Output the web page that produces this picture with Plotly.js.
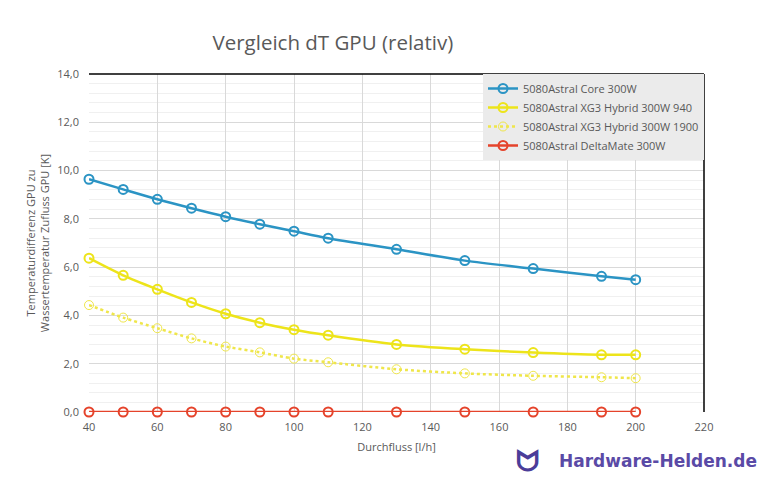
<!DOCTYPE html>
<html>
<head>
<meta charset="utf-8">
<script src="https://cdn.plot.ly/plotly-3.0.1.min.js"></script>
<style>html,body{margin:0;padding:0;background:#fff;}#chart{width:767px;height:487px;}</style>
</head>
<body>
<div id="chart"></div>
<script>
const flow = [40, 50, 60, 70, 80, 90, 100, 110, 130, 150, 170, 190, 200];
const seriesNames = [
  "5080Astral Core 300W",
  "5080Astral XG3 Hybrid 300W 940",
  "5080Astral XG3 Hybrid 300W 1900",
  "5080Astral DeltaMate 300W"
];
const coreValues   = [9.64, 9.22, 8.81, 8.44, 8.09, 7.78, 7.49, 7.20, 6.74, 6.27, 5.94, 5.62, 5.48];
const xg940Values  = [6.37, 5.66, 5.08, 4.54, 4.07, 3.70, 3.41, 3.18, 2.80, 2.60, 2.46, 2.37, 2.37];
const xg1900Values = [4.43, 3.91, 3.47, 3.05, 2.71, 2.47, 2.21, 2.06, 1.77, 1.60, 1.50, 1.44, 1.40];
const deltaValues  = [0, 0, 0, 0, 0, 0, 0, 0, 0, 0, 0, 0, 0];
const xTicks = [40, 60, 80, 100, 120, 140, 160, 180, 200, 220];
const yTicks = [0, 2, 4, 6, 8, 10, 12, 14];

const FONT = "Open Sans, Noto Sans, sans-serif";
const GRAY = "#595959";

function mk(name, y, color, dash, mlw) {
  return {
    type: "scatter", mode: "lines+markers", name: name, x: flow, y: y,
    cliponaxis: false,
    line: {color: color, width: 2.5, dash: dash, shape: "spline", smoothing: 0.8},
    marker: {symbol: "circle-open", size: 9, color: color, line: {color: color, width: mlw}}
  };
}
const data = [
  mk(seriesNames[0], coreValues, "#2b94c4", "solid", 2),
  mk(seriesNames[1], xg940Values, "#ede41a", "solid", 2),
  mk(seriesNames[2], xg1900Values, "#efe64a", "dot", 1),
  mk(seriesNames[3], deltaValues, "#e5432b", "solid", 2)
];

const layout = {
  width: 767, height: 487,
  margin: {l: 89, r: 63, t: 74, b: 75},
  paper_bgcolor: "#ffffff", plot_bgcolor: "#ffffff",
  font: {family: FONT, color: GRAY, size: 11},
  separators: ",.",
  showlegend: true,
  title: {text: "Vergleich dT GPU (relativ)", x: 0.434, xref: "container", xanchor: "center",
          y: 0.912, yref: "container", yanchor: "middle",
          font: {family: FONT, size: 20.5, color: GRAY}},
  xaxis: {
    range: [40, 220], tickvals: xTicks, ticktext: xTicks.map(String),
    showgrid: true, gridcolor: "#d9d9d9", gridwidth: 1, zeroline: false,
    showline: false, ticks: "", tickfont: {size: 11, color: GRAY},
    ticklabelstandoff: 7,
    title: {text: "Durchfluss [l/h]", font: {size: 11, color: GRAY}, standoff: 10},
    fixedrange: true
  },
  yaxis: {
    range: [0, 14], tickvals: yTicks, tickformat: ".1f",
    showgrid: true, gridcolor: "#d9d9d9", gridwidth: 1, zeroline: false,
    showline: false, ticks: "", tickfont: {size: 11, color: GRAY},
    ticklabelstandoff: 9,
    minor: {dtick: 0.4, tick0: 0, showgrid: true, gridcolor: "#f0f0f0", gridwidth: 1},
    title: {text: "Temperaturdifferenz GPU zu<br>Wassertemperatur Zufluss GPU [K]",
            font: {size: 11, color: GRAY}, standoff: 5},
    fixedrange: true
  },
  legend: {
    x: 1, xanchor: "right", y: 1, yanchor: "top",
    bgcolor: "#ebebeb", borderwidth: 0,
    font: {family: FONT, size: 11, color: GRAY},
    itemwidth: 30, tracegroupgap: 0
  },
  shapes: [
    {type: "line", xref: "paper", yref: "paper", x0: 0, x1: 1, y0: 1, y1: 1, line: {color: "#000", width: 1.5}},
    {type: "line", xref: "paper", yref: "paper", x0: 1, x1: 1, y0: 0, y1: 1, line: {color: "#000", width: 1.5}}
  ],
  annotations: [
    {text: "<b>Hardware-Helden.de</b>", xref: "paper", yref: "paper", x: 1.09, y: -0.145,
     xanchor: "right", yanchor: "middle", showarrow: false,
     font: {family: "DejaVu Sans, sans-serif", size: 17, color: "#5a4aa6"}},
    {text: "<b>ᗢ</b>", xref: "paper", yref: "paper", x: 0.735, y: -0.145,
     xanchor: "right", yanchor: "middle", showarrow: false,
     font: {family: "DejaVu Sans, sans-serif", size: 28, color: "#4b3d99"}}
  ]
};

Plotly.newPlot("chart", data, layout, {displayModeBar: false});
</script>
</body>
</html>
